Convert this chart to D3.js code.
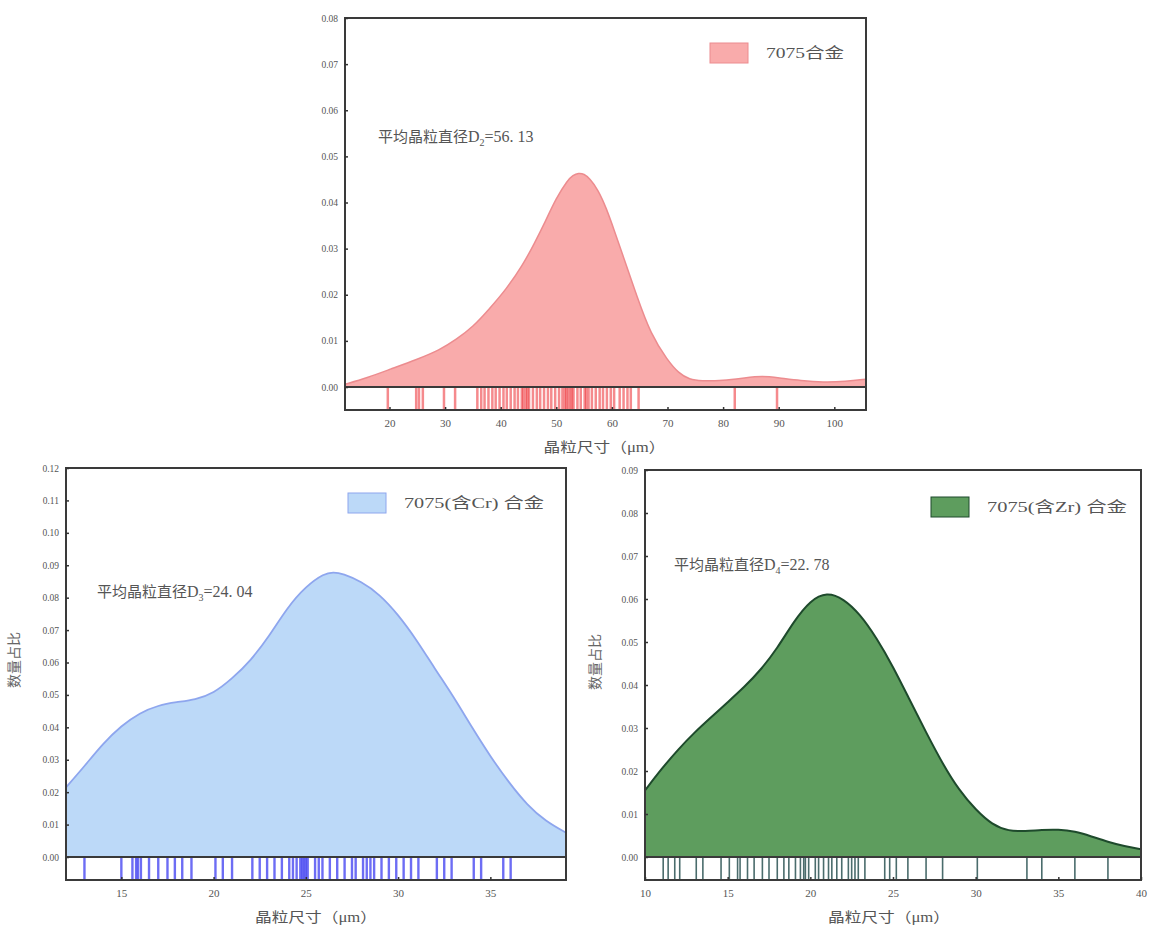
<!DOCTYPE html>
<html>
<head>
<meta charset="utf-8">
<script src="https://cdn.jsdelivr.net/npm/d3@7"></script>
<style>
  body { margin: 0; background: #fff; }
  svg { display: block; }
</style>
</head>
<body>
<script>
// ---- data ----
// 7075 alloy (top)
var topGrain = [12, 16, 20, 25, 29, 32, 35, 38, 41, 44, 46, 48, 50, 52, 53, 54, 55, 56, 57.5, 59, 60.5, 62, 64.5, 67, 70, 72, 74, 76, 80, 84, 87, 90, 94, 98, 102, 105.7];
var topDens  = [0.0006, 0.002, 0.0038, 0.006, 0.008, 0.0103, 0.013, 0.017, 0.0212, 0.0265, 0.031, 0.0358, 0.041, 0.0448, 0.0459, 0.0464, 0.0462, 0.0452, 0.0428, 0.0388, 0.0337, 0.0285, 0.0196, 0.0114, 0.0058, 0.003, 0.0016, 0.0013, 0.0014, 0.002, 0.0024, 0.002, 0.0014, 0.001, 0.0012, 0.0017];
var topRug = [19.7, 24.8, 25.3, 26.0, 29.8, 31.8, 35.8, 36.5, 37.1, 37.8, 38.5, 39.1, 39.8, 40.5, 41.1, 41.8, 42.5, 43.1, 43.8, 44.1, 44.5, 44.8, 45.1, 45.8, 46.5, 47.1, 47.8, 48.5, 49.1, 49.8, 50.5, 51.1, 51.5, 51.8, 52.1, 52.5, 52.8, 53.1, 53.8, 54.4, 55.1, 55.4, 55.8, 56.4, 57.1, 57.8, 58.4, 59.1, 59.8, 60.4, 61.4, 62.1, 62.8, 63.4, 64.8, 82.1, 89.7];
var topXTicks = [20, 30, 40, 50, 60, 70, 80, 90, 100];
var topYTicks = [0, 0.01, 0.02, 0.03, 0.04, 0.05, 0.06, 0.07, 0.08];

// 7075 (Cr) alloy (bottom left)
var crGrain = [12, 13, 14, 15, 16, 17, 18, 19, 20, 21, 22, 23, 24, 25, 26, 26.5, 27, 28, 29, 30, 31, 32, 33, 34, 35, 36, 37, 38, 39.1];
var crDens  = [0.0215, 0.028, 0.035, 0.0405, 0.0445, 0.0468, 0.0478, 0.0485, 0.0505, 0.055, 0.0605, 0.068, 0.077, 0.0835, 0.0875, 0.0879, 0.0874, 0.085, 0.081, 0.0748, 0.067, 0.058, 0.0495, 0.040, 0.031, 0.023, 0.016, 0.011, 0.0075];
var crRug = [13.0, 15.0, 15.6, 15.8, 15.9, 16.06, 16.5, 17.0, 17.5, 17.9, 18.3, 18.8, 20.1, 20.5, 21.0, 22.1, 22.5, 22.9, 23.3, 23.7, 24.1, 24.3, 24.5, 24.7, 24.8, 24.9, 25.0, 25.1, 25.5, 25.7, 25.9, 26.3, 26.7, 27.1, 27.5, 27.7, 28.1, 28.3, 28.5, 28.7, 29.1, 29.5, 29.9, 30.3, 30.7, 31.1, 32.1, 32.5, 32.9, 34.1, 34.5, 35.7, 36.1];
var crXTicks = [15, 20, 25, 30, 35];
var crYTicks = [0, 0.01, 0.02, 0.03, 0.04, 0.05, 0.06, 0.07, 0.08, 0.09, 0.10, 0.11, 0.12];

// 7075 (Zr) alloy (bottom right)
var zrGrain = [10, 11, 12, 13, 14, 15, 16, 17, 18, 19, 20, 21, 22, 23, 24, 25, 26, 27, 28, 29, 30, 31, 32, 33, 34, 35, 36, 37, 38, 39, 40];
var zrDens  = [0.0155, 0.0205, 0.025, 0.029, 0.0325, 0.036, 0.0395, 0.0435, 0.0485, 0.0548, 0.0597, 0.0616, 0.0601, 0.0565, 0.051, 0.0443, 0.0366, 0.029, 0.0217, 0.0155, 0.011, 0.0075, 0.006, 0.006, 0.0063, 0.0064, 0.006, 0.0048, 0.0035, 0.0025, 0.0018];
var zrRug = [11.1, 11.4, 11.8, 12.1, 13.1, 13.5, 14.6, 15.1, 15.6, 15.75, 16.2, 16.6, 17.1, 17.5, 18.0, 18.4, 18.7, 19.1, 19.4, 19.6, 19.7, 19.9, 20.3, 20.5, 20.8, 21.1, 21.3, 21.6, 21.9, 22.3, 22.5, 22.7, 22.9, 23.3, 24.5, 24.8, 25.2, 25.9, 27.0, 28.0, 30.1, 33.1, 34.0, 36.0, 38.0];
var zrXTicks = [10, 15, 20, 25, 30, 35, 40];
var zrYTicks = [0, 0.01, 0.02, 0.03, 0.04, 0.05, 0.06, 0.07, 0.08, 0.09];

var W = 1150, H = 931;
var mixed = "'Liberation Serif', 'Noto Sans CJK SC', serif",   // latin in serif, CJK falls back
    serif = "'Liberation Serif', 'DejaVu Serif', serif";

var svg = d3.select("body").append("svg")
    .attr("width", W)
    .attr("height", H);

svg.append("rect").attr("width", W).attr("height", H).attr("fill", "#fff");

var panelId = 0;

function drawPanel(c) {
    panelId++;
    var g = svg.append("g");
    var x = d3.scaleLinear().domain(c.xDomain).range([c.left, c.right]);
    var y = d3.scaleLinear().domain(c.yDomain).range([c.zero, c.top]);

    // clip to the plotting frame
    g.append("clipPath").attr("id", "clip" + panelId)
        .append("rect")
        .attr("x", c.left).attr("y", c.top)
        .attr("width", c.right - c.left).attr("height", c.bottom - c.top);

    var pts = c.grain.map((v, i) => [v, c.dens[i]]);
    var curve = d3.curveBasis;              // smooth like a kde
    var area = d3.area()
        .x(d => x(d[0]))
        .y0(y(0))
        .y1(d => y(d[1]))
        .curve(curve);
    var line = d3.line()
        .x(d => x(d[0]))
        .y(d => y(d[1]))
        .curve(curve);

    var inner = g.append("g").attr("clip-path", "url(#clip" + panelId + ")");
    inner.append("path").datum(pts)
        .attr("d", area)
        .attr("fill", c.fill);
    inner.append("path").datum(pts)
        .attr("d", line)
        .attr("fill", "none")
        .attr("stroke", c.stroke)
        .attr("stroke-width", c.strokeW);

    // rug marks under the zero line
    inner.selectAll(".rug")
        .data(c.rug)
        .join("line")
        .attr("x1", d => x(d)).attr("x2", d => x(d))
        .attr("y1", c.zero).attr("y2", c.bottom)
        .attr("stroke", c.rugColor)
        .attr("stroke-opacity", c.rugOpacity)
        .attr("stroke-width", c.rugW);

    // frame + zero line
    g.append("rect")
        .attr("x", c.left).attr("y", c.top)
        .attr("width", c.right - c.left).attr("height", c.bottom - c.top)
        .attr("fill", "none").attr("stroke", "#3a3a3a").attr("stroke-width", 2);
    g.append("line")
        .attr("x1", c.left).attr("x2", c.right)
        .attr("y1", c.zero).attr("y2", c.zero)
        .attr("stroke", "#3a3a3a").attr("stroke-width", 2);

    // axes
    var gy = g.append("g")
        .attr("transform", "translate(" + c.left + ",0)")
        .call(d3.axisLeft(y).tickValues(c.yTicks).tickFormat(d3.format(".2f")).tickSize(-3).tickPadding(7));
    var gx = g.append("g")
        .attr("transform", "translate(0," + c.bottom + ")")
        .call(d3.axisBottom(x).tickValues(c.xTicks).tickFormat(d3.format("d")).tickSize(-3).tickPadding(9));
    [gy, gx].forEach(a => {
        a.select(".domain").remove();
        a.selectAll(".tick line").attr("stroke", "#333").attr("stroke-width", 1.5);
        a.selectAll("text").attr("font-family", serif).attr("fill", "#555");
    });
    gy.selectAll("text").attr("font-size", 9.5);
    gx.selectAll("text").attr("font-size", 11);

    // x axis title
    g.append("text")
        .attr("x", (c.left + c.right) / 2 + c.titleDx)
        .attr("y", c.bottom + 42)
        .attr("text-anchor", "middle")
        .attr("font-family", mixed)
        .attr("font-size", 14)
        .attr("fill", "#555")
        .attr("textLength", 122)
        .attr("lengthAdjust", "spacingAndGlyphs")
        .text("晶粒尺寸（μm）");

    // y axis title (bottom panels only)
    if (c.yTitleX) {
        g.append("text")
            .attr("transform", "translate(" + c.yTitleX + "," + c.yTitleY + ") rotate(-90)")
            .attr("text-anchor", "middle")
            .attr("font-family", mixed)
            .attr("font-size", 14)
            .attr("fill", "#666")
            .text("数量占比");
    }

    // legend
    g.append("rect")
        .attr("x", c.legX).attr("y", c.legY)
        .attr("width", 38).attr("height", 20)
        .attr("fill", c.fill).attr("stroke", c.stroke).attr("stroke-width", 1);
    g.append("text")
        .attr("x", c.legX + 56).attr("y", c.legY + 15)
        .attr("font-family", mixed)
        .attr("font-size", 15)
        .attr("fill", "#555")
        .attr("textLength", c.legLen)
        .attr("lengthAdjust", "spacingAndGlyphs")
        .text(c.label);

    // mean grain diameter note
    var t = g.append("text")
        .attr("x", c.noteX).attr("y", c.noteY)
        .attr("font-family", mixed)
        .attr("font-size", 15)
        .attr("fill", "#555");
    t.append("tspan").text("平均晶粒直径");
    t.append("tspan").attr("font-size", 16).text("D");
    t.append("tspan").attr("font-size", 10).attr("dy", 4).text(c.sub);
    t.append("tspan").attr("font-size", 16).attr("dy", -4).text("=" + c.mean);
}

drawPanel({
    grain: topGrain, dens: topDens, rug: topRug, xTicks: topXTicks, yTicks: topYTicks,
    xDomain: [12, 105.7], yDomain: [0, 0.08],
    left: 345, right: 866, top: 18, zero: 387, bottom: 410,
    fill: "#f9abab", stroke: "#ec8c8f", strokeW: 1.5,
    rugColor: "#ec2a30", rugOpacity: 0.55, rugW: 2.5,
    legX: 710, legY: 43, label: "7075合金", legLen: 78,
    noteX: 378, noteY: 142, sub: "2", mean: "56. 13",
    titleDx: -1
});

drawPanel({
    grain: crGrain, dens: crDens, rug: crRug, xTicks: crXTicks, yTicks: crYTicks,
    xDomain: [12, 39.1], yDomain: [0, 0.12],
    left: 66, right: 566, top: 468, zero: 857, bottom: 880,
    fill: "#bcd9f8", stroke: "#8ea6ee", strokeW: 1.8,
    rugColor: "#2f2ff0", rugOpacity: 0.7, rugW: 2.4,
    legX: 348, legY: 493, label: "7075(含Cr) 合金", legLen: 140,
    noteX: 97, noteY: 597, sub: "3", mean: "24. 04",
    titleDx: 0, yTitleX: 19, yTitleY: 660
});

drawPanel({
    grain: zrGrain, dens: zrDens, rug: zrRug, xTicks: zrXTicks, yTicks: zrYTicks,
    xDomain: [10, 40], yDomain: [0, 0.09],
    left: 645, right: 1141, top: 470, zero: 857, bottom: 880,
    fill: "#5e9d5e", stroke: "#1e4a2c", strokeW: 2,
    rugColor: "#2a5252", rugOpacity: 0.85, rugW: 1.6,
    legX: 931, legY: 497, label: "7075(含Zr) 合金", legLen: 140,
    noteX: 674, noteY: 570, sub: "4", mean: "22. 78",
    titleDx: -4, yTitleX: 600, yTitleY: 662
});
</script>
</body>
</html>
